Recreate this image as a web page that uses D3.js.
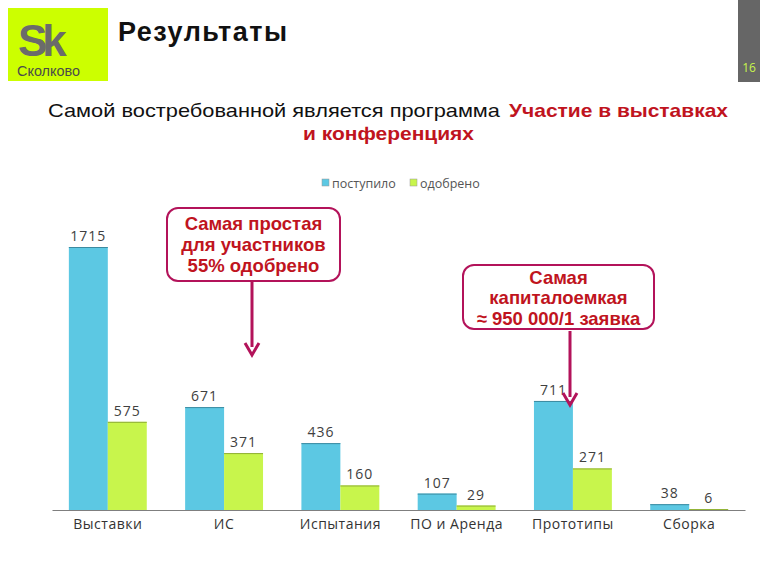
<!DOCTYPE html>
<html><head><meta charset="utf-8">
<script src="https://cdn.jsdelivr.net/npm/d3@7/dist/d3.min.js"></script>
<style>body{margin:0;background:#fff}svg{display:block}</style>
</head><body>
<svg id="c" width="768" height="576"></svg>
<script>
const categories = ["Выставки","ИС","Испытания","ПО и Аренда","Прототипы","Сборка"];
const received = [1715,671,436,107,711,38];
const approved = [575,371,160,29,271,6];
const seriesNames = ["поступило","одобрено"];

const svg = d3.select("#c");
const blue = "#5cc8e3", green = "#c8f54c";
const red = "#c0141e", maroon = "#b3135a";

// logo
svg.append("rect").attr("x",8).attr("y",8).attr("width",100).attr("height",73).attr("fill","#ccff00");
svg.append("text").attr("x",18).attr("y",56).attr("font-family","Liberation Sans, Arial").attr("font-weight","bold")
  .attr("font-size",44).attr("fill","#6b6b6b").attr("letter-spacing",-5).text("Sk");
svg.append("text").attr("x",17).attr("y",76).attr("font-family","Liberation Sans, Arial")
  .attr("font-size",14).attr("textLength",63).attr("lengthAdjust","spacingAndGlyphs").attr("fill","#4a4a4a").text("Сколково");
svg.append("text").attr("x",118).attr("y",41).attr("font-family","Liberation Sans, Arial").attr("font-weight","bold")
  .attr("font-size",27).attr("textLength",169).attr("lengthAdjust","spacing").attr("fill","#111").text("Результаты");
// page bar
svg.append("rect").attr("x",738).attr("y",0).attr("width",22).attr("height",82).attr("fill","#666");
svg.append("text").attr("x",749).attr("y",72).attr("text-anchor","middle").attr("font-family","Open Sans, sans-serif")
  .attr("font-size",12).attr("fill","#c8f54c").text("16");

// subtitle
svg.append("text").attr("x",48).attr("y",117).attr("font-family","Liberation Sans, Arial").attr("font-size",19)
  .attr("textLength",452).attr("lengthAdjust","spacingAndGlyphs").attr("fill","#111").text("Самой востребованной  является программа");
svg.append("text").attr("x",509).attr("y",117).attr("font-family","Liberation Sans, Arial").attr("font-size",19)
  .attr("textLength",219).attr("lengthAdjust","spacingAndGlyphs").attr("font-weight","bold").attr("fill",red).text("Участие в выставках");
svg.append("text").attr("x",303).attr("y",140).attr("font-family","Liberation Sans, Arial")
  .attr("font-size",19).attr("textLength",171).attr("lengthAdjust","spacingAndGlyphs").attr("font-weight","bold").attr("fill",red).text("и конференциях");

// legend
const lg = svg.append("g").attr("font-family","Open Sans, sans-serif").attr("font-size",12.5).attr("fill","#555");
[[322,blue,0],[410,green,1]].forEach(([x,c,i])=>{
  lg.append("rect").attr("x",x).attr("y",179).attr("width",7).attr("height",7).attr("fill",c).attr("stroke","#999").attr("stroke-width",0.5);
  lg.append("text").attr("x",x+10).attr("y",188).text(seriesNames[i]);
});

// chart
const x0 = d3.scaleBand().domain(categories).range([52,745]).paddingInner(0.33).paddingOuter(0.145);
const x1 = d3.scaleBand().domain([0,1]).range([0,x0.bandwidth()]);
const y = d3.scaleLinear().domain([0,1715]).range([510,247]);

const g = svg.append("g");
categories.forEach((c,i)=>{
  [[received[i],blue,"#3c8aa0",0],[approved[i],green,"#8fae36",1]].forEach(([v,col,edge,k])=>{
    const bx = x0(c)+x1(k), bw = x1.bandwidth(), by = y(v);
    g.append("rect").attr("x",bx).attr("y",by).attr("width",bw).attr("height",y(0)-by).attr("fill",col);
    g.append("line").attr("x1",bx).attr("x2",bx+bw).attr("y1",by+0.5).attr("y2",by+0.5).attr("stroke",edge).attr("stroke-width",1);
    g.append("text").attr("x",bx+bw/2).attr("y",by-6).attr("text-anchor","middle").attr("letter-spacing",1)
      .attr("font-family","Open Sans, sans-serif").attr("font-size",14).attr("fill","#404040").text(v);
  });
});
const xAxis = svg.append("g").attr("transform","translate(0,510)").call(d3.axisBottom(x0).tickSize(0).tickPadding(9));
xAxis.select(".domain").attr("stroke","#7f7f7f").attr("stroke-width",1.2);
xAxis.selectAll("text").attr("font-family","Open Sans, sans-serif").attr("font-size",14).attr("letter-spacing",0.5).attr("fill","#333");

// callouts
function callout(x,yy,w,h,lines,ly,ax,ay1,ay2){
  svg.append("rect").attr("x",x).attr("y",yy).attr("width",w).attr("height",h).attr("rx",11)
    .attr("fill","#fff").attr("stroke",maroon).attr("stroke-width",2);
  lines.forEach((t,i)=>svg.append("text").attr("x",x+w/2).attr("y",ly[i]).attr("text-anchor","middle")
    .attr("font-family","Liberation Sans, Arial").attr("font-weight","bold").attr("font-size",18.5).attr("fill",red).text(t));
  svg.append("line").attr("x1",ax).attr("x2",ax).attr("y1",ay1).attr("y2",ay2-8).attr("stroke",maroon).attr("stroke-width",3);
  svg.append("path").attr("d",`M${ax-7},${ay2-12} L${ax},${ay2} L${ax+7},${ay2-12}`).attr("fill","none").attr("stroke",maroon).attr("stroke-width",3);
}
callout(167,208,173,73,["Самая простая","для участников","55% одобрено"],[230,251,272],252,282,355);
callout(463,265,191,64,["Самая","капиталоемкая","≈ 950 000/1 заявка"],[284,304,325],570,331,405);
</script>
</body></html>
